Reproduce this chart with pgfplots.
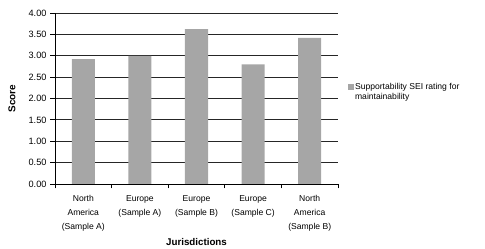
\documentclass[border=0pt]{standalone}
\usepackage{fontspec}
\setmainfont{Liberation Sans}
\usepackage{pgfplots}
\pgfplotsset{compat=1.18}
\definecolor{bargray}{HTML}{A6A6A6}
\begin{document}
\begin{tikzpicture}
\useasboundingbox (0,0) rectangle (485bp,249bp);
\begin{axis}[
  at={(55bp,65bp)}, anchor=south west,
  scale only axis, width=283bp, height=171bp,
  xmin=-0.5, xmax=4.5, ymin=0, ymax=4,
  axis x line*=bottom, axis y line*=left,
  axis line style={black, line width=0.8bp},
  tick align=outside, major tick length=4.5bp,
  tick style={black, line width=0.8bp},
  ytick={0,0.5,...,4},
  yticklabel={\pgfmathprintnumber[fixed,fixed zerofill,precision=2]{\tick}},
  /pgf/number format/assume math mode=true,
  yticklabel style={font=\fontsize{9.2}{10}\selectfont, xshift=-0.5bp},
  ymajorgrids, grid style={black!85, line width=0.8bp},
  xtick={-0.5,0.5,1.5,2.5,3.5,4.5},
  x tick label as interval,
  xticklabels={{North\\America\\(Sample A)},{Europe\\(Sample A)},{Europe\\(Sample B)},{Europe\\(Sample C)},{North\\America\\(Sample B)}},
  xticklabel style={font=\fontsize{8.6}{13.8}\selectfont, align=center, anchor=north, yshift=-3.5bp},
  xlabel={Jurisdictions},
  xlabel style={font=\bfseries\fontsize{9.8}{11}\selectfont, at={(axis description cs:0.5,-0.339)}, anchor=center},
  ylabel={Score},
  ylabel style={font=\bfseries\fontsize{10}{11}\selectfont, at={(axis description cs:-0.152,0.5)}, anchor=center},
  legend style={draw=none, fill=none, at={(axis description cs:1.035,0.597)}, anchor=north west,
    font=\fontsize{8.6}{10}\selectfont, inner sep=0pt, row sep=0bp,
    nodes={inner sep=1bp, text height=6.4bp, text depth=1.8bp}},
  legend cell align=left,
  legend image code/.code={\fill[bargray] (0bp,-2.8bp) rectangle (6bp,2.8bp);},
]
\addplot[ybar, bar width=23bp, fill=bargray, draw=none] coordinates {
  (0,2.92) (1,3.00) (2,3.62) (3,2.80) (4,3.42)
};
\addlegendentry{Supportability SEI rating for}
\addlegendimage{empty legend}
\addlegendentry{maintainability}
\end{axis}
\end{tikzpicture}
\end{document}
